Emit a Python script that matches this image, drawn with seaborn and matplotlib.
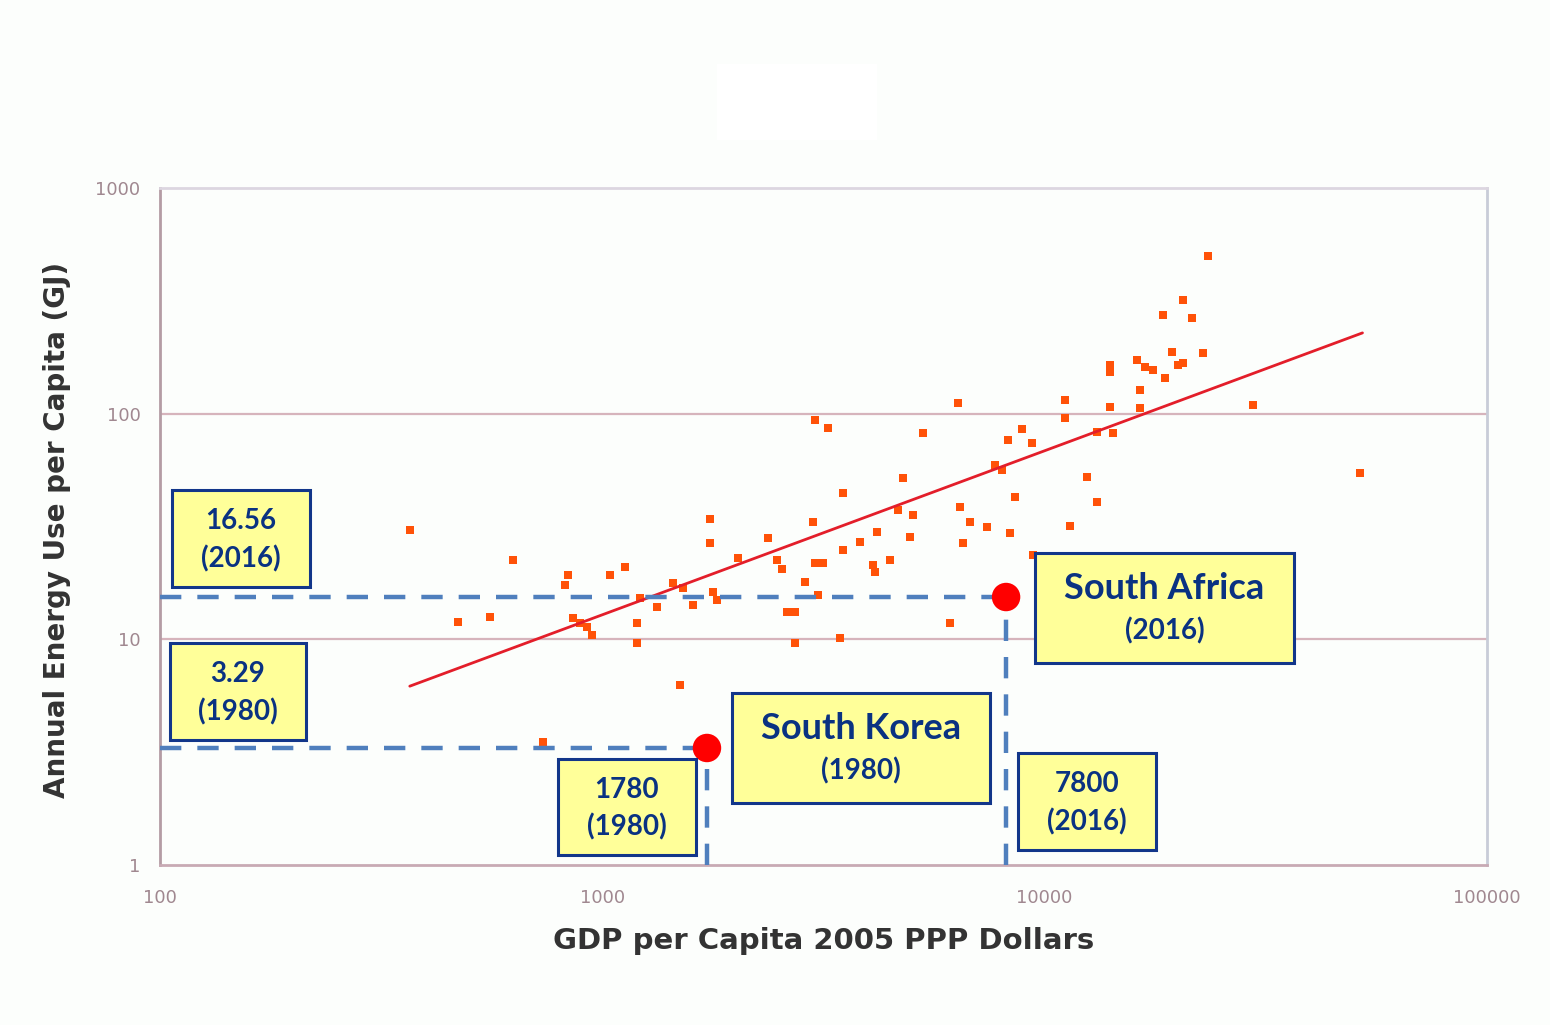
import pandas as pd
import matplotlib.pyplot as plt
import seaborn as sns
from matplotlib.patches import Rectangle

# GDP per capita (2005 PPP $) and annual energy use per capita (GJ)
gdp = [367, 472, 557, 628, 735, 824, 836, 859, 891, 923, 948, 1040, 1125, 1197, 1197,
       1217, 1330, 1446, 1523, 1604, 1500, 1753, 1753, 1779, 1816, 2026, 2371, 2483, 2547,
       2616, 2729, 2729, 2873, 2994, 3025, 3025, 3155, 3079, 3236, 3443, 3499, 3499, 3828,
       4181, 4095, 4139, 4479,
       4667, 4786, 4963, 5043, 5311, 6111, 6368, 6440, 6540, 6778, 7413, 7727, 8015, 8267,
       8350, 8570, 8892, 9367, 9415, 11120, 11120, 11420, 12480, 13150, 13150, 14060, 14060,
       14060, 14290, 16180, 16870, 17580, 16440, 16440, 18530, 18720, 19410, 20030, 20560,
       20560, 21530, 22800, 23440, 29580, 51680]
energy = [30.5, 11.9, 12.6, 22.5, 3.51, 17.4, 19.3, 12.4, 11.8, 11.3, 10.5, 19.3, 20.9, 11.8, 9.6,
          15.3, 13.9, 17.8, 16.9, 14.2, 6.28, 34.1, 26.7, 16.2, 14.9, 22.9, 28.1, 22.5, 20.5,
          13.2, 13.2, 9.6, 18.0, 33.1, 93.7, 21.8, 21.8, 15.7, 86.4, 10.1, 44.5, 24.9, 27.0,
          29.9, 21.4, 19.9, 22.5,
          37.4, 51.9, 28.4, 35.6, 82.1, 11.8, 111, 38.6, 26.7, 33.1, 31.5, 59.3, 56.3, 76.4,
          29.6, 42.7, 85.5, 74.1, 23.7, 115, 95.7, 31.8, 52.4, 83.0, 40.6, 164, 153,
          107, 82.1, 173, 161, 156, 127, 106, 274, 144, 188, 164, 168,
          319, 266, 186, 500, 109, 54.6]

# trend line end points
trend_x = [367, 52300]
trend_y = [6.2, 228]

# highlighted countries
hl_names = ["South Korea", "South Africa"]
hl_gdp = [1724, 8180]
hl_energy = [3.30, 15.4]

xticks = [100, 1000, 10000, 100000]
yticks = [1, 10, 100, 1000]
ytick_labels = ["1", "10", "100", "1000"]

df = pd.DataFrame({"GDP": gdp, "Energy": energy})
trend = pd.DataFrame({"GDP": trend_x, "Energy": trend_y})
hl = pd.DataFrame({"name": hl_names, "GDP": hl_gdp, "Energy": hl_energy})

sns.set_style("white")
bg = "#fcfefc"
fig = plt.figure(figsize=(15.5, 10.25), dpi=100, facecolor=bg)
ax = fig.add_axes([160/1550, 160/1025, 1327/1550, 677/1025])
ax.set_facecolor(bg)

ax.set_xscale("log")
ax.set_yscale("log")
ax.set_xlim(100, 100000)
ax.set_ylim(1, 1000)

for yv in [10, 100]:
    ax.axhline(yv, color="#d6b4bc", lw=1.6, zorder=0)

sns.scatterplot(data=df, x="GDP", y="Energy", ax=ax, marker="s", s=34,
                color="#ff5208", edgecolor="none", zorder=2)
sns.lineplot(data=trend, x="GDP", y="Energy", ax=ax, color="#e31e2a", lw=2, zorder=3)

# dashed guide lines to the highlighted points
blue = "#4f7fbd"
for _, r in hl.iterrows():
    ax.plot([100, r["GDP"]], [r["Energy"], r["Energy"]], color=blue, lw=3.2,
            dashes=(4.8, 3.6), zorder=4)
    ax.plot([r["GDP"], r["GDP"]], [1, r["Energy"]], color=blue, lw=3.2,
            dashes=(4.8, 3.6), zorder=4)
sns.scatterplot(data=hl, x="GDP", y="Energy", ax=ax, s=420, color="#ff0000",
                edgecolor="none", zorder=6, legend=False)

ax.set_xticks(xticks)
ax.set_xticklabels([str(v) for v in xticks])
ax.set_yticks(yticks)
ax.set_yticklabels(ytick_labels)
ax.minorticks_off()
ax.tick_params(axis="both", labelsize=13, labelcolor="#a08890", color="#b8a0a8",
               length=4, width=1.2, direction="out")
ax.tick_params(axis="x", pad=13)
ax.tick_params(axis="y", pad=10)

ax.spines["left"].set_color("#b49ca4")
ax.spines["bottom"].set_color("#c8aab4")
ax.spines["top"].set_color("#dcd6e0")
ax.spines["right"].set_color("#c8ccd8")
for s in ax.spines.values():
    s.set_linewidth(2)

ax.set_xlabel("GDP per Capita 2005 PPP Dollars", fontsize=21, fontweight="bold",
              color="#333333")
ax.set_ylabel("Annual Energy Use per Capita (GJ)", fontsize=20, fontweight="bold",
              color="#333333")
ax.xaxis.set_label_coords(0.50, -0.092)
ax.yaxis.set_label_coords(-0.067, 0.495)

# annotation boxes (axes fraction)
navy = "#0a3282"
boxes = [
    (0.009, 0.4106, 0.104, 0.1433, "16.56", "(2016)", 20, 20),
    (0.0075, 0.1846, 0.1025, 0.1433, "3.29", "(1980)", 20, 20),
    (0.2999, 0.0148, 0.104, 0.1418, "1780", "(1980)", 20, 20),
    (0.6466, 0.0222, 0.104, 0.1433, "7800", "(2016)", 20, 20),
    (0.4310, 0.0916, 0.1944, 0.1625, "South Korea", "(1980)", 26, 20),
    (0.6594, 0.2984, 0.1952, 0.1625, "South Africa", "(2016)", 26, 20),
]
for x0, y0, w, h, t1, t2, f1, f2 in boxes:
    ax.add_patch(Rectangle((x0, y0), w, h, transform=ax.transAxes, facecolor="#ffff99",
                           edgecolor="#12368a", lw=2.2, zorder=7))
    ax.text(x0 + w/2, y0 + h*0.68, t1, transform=ax.transAxes, ha="center", va="center",
            fontsize=f1, fontweight="bold", color=navy, family="Lato", zorder=8)
    ax.text(x0 + w/2, y0 + h*0.29, t2, transform=ax.transAxes, ha="center", va="center",
            fontsize=f2, fontweight="bold", color=navy, family="Lato", zorder=8)

# blank white title placeholder
fig.patches.append(Rectangle((717/1550, 1 - 140/1025), 160/1550, 76/1025,
                             transform=fig.transFigure, facecolor="white",
                             edgecolor="none"))

fig.savefig("out.png", dpi=100, facecolor=bg)
